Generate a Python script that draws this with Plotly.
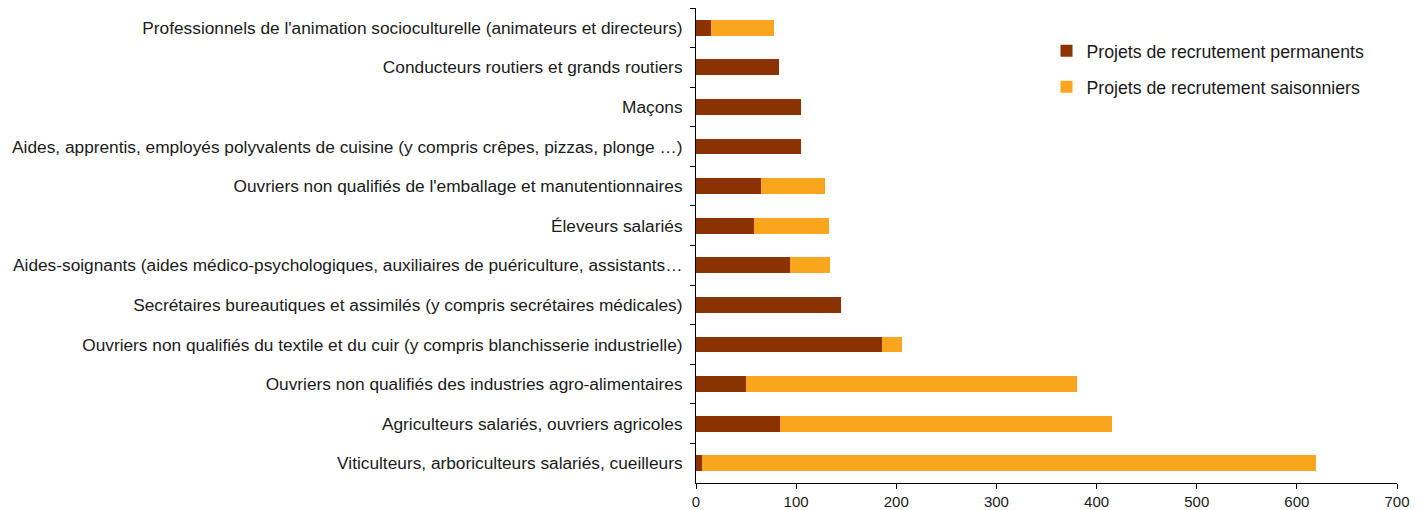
import plotly.graph_objects as go

categories = [
    "Professionnels de l'animation socioculturelle (animateurs et directeurs)",
    "Conducteurs routiers et grands routiers",
    "Maçons",
    "Aides, apprentis, employés polyvalents de cuisine (y compris crêpes, pizzas, plonge …)",
    "Ouvriers non qualifiés de l'emballage et manutentionnaires",
    "Éleveurs salariés",
    "Aides-soignants (aides médico-psychologiques, auxiliaires de puériculture, assistants…",
    "Secrétaires bureautiques et assimilés (y compris secrétaires médicales)",
    "Ouvriers non qualifiés du textile et du cuir (y compris blanchisserie industrielle)",
    "Ouvriers non qualifiés des industries agro-alimentaires",
    "Agriculteurs salariés, ouvriers agricoles",
    "Viticulteurs, arboriculteurs salariés, cueilleurs",
]
permanents = [15, 83, 105, 105, 65, 58, 94, 145, 186, 50, 84, 6]
saisonniers = [63, 0, 0, 0, 64, 75, 40, 0, 20, 330, 331, 613]

x_ticks = [0, 100, 200, 300, 400, 500, 600, 700]

fig = go.Figure()
fig.add_trace(go.Bar(
    y=categories, x=permanents, orientation="h",
    name="Projets de recrutement permanents",
    marker=dict(color="#8B3300", line=dict(width=0)),
    legendgroup="a",
))
fig.add_trace(go.Bar(
    y=categories, x=saisonniers, orientation="h",
    name="Projets de recrutement saisonniers",
    marker=dict(color="#F9A61E", line=dict(width=0)),
    legendgroup="b",
))

# page body has an 8px default margin, so the figure is sized to fit the window
fig.update_layout(
    barmode="stack",
    bargap=0.6,
    width=1416, height=502,
    margin=dict(l=688, r=27, t=0, b=27, autoexpand=False),
    plot_bgcolor="white", paper_bgcolor="white",
    font=dict(family="Liberation Sans, Arial, sans-serif", size=17.3, color="#1a1a1a"),
    legend=dict(
        x=0.50, y=0.948, xanchor="left", yanchor="top",
        xref="paper", yref="paper",
        font=dict(size=17.7, color="#1a1a1a"),
        traceorder="grouped", tracegroupgap=10,
        bgcolor="rgba(0,0,0,0)",
    ),
    xaxis=dict(
        range=[0, 700], tickvals=x_ticks, ticktext=[str(v) for v in x_ticks],
        showgrid=False, zeroline=False, showline=True, linecolor="black", linewidth=1,
        ticks="outside", ticklen=5, tickcolor="black",
        tickfont=dict(size=15), automargin=False,
    ),
    yaxis=dict(
        autorange="reversed", type="category",
        showgrid=False, showline=True, linecolor="black", linewidth=1,
        ticks="outside", ticklen=5, tickcolor="black", tickson="boundaries",
        tickfont=dict(size=17.3), automargin=False, ticklabelstandoff=9,
    ),
)

fig.write_html("out.html")
